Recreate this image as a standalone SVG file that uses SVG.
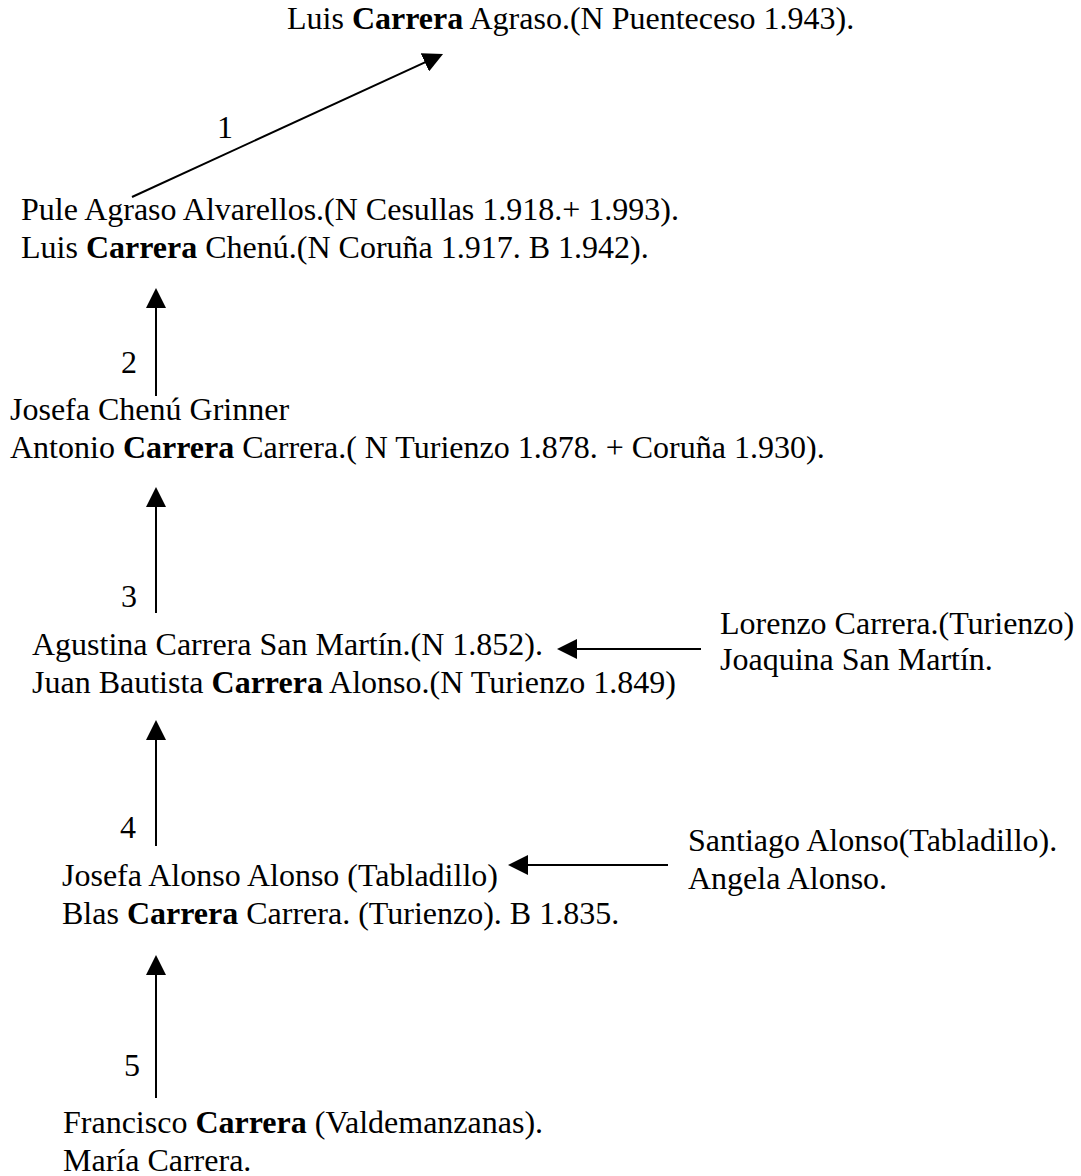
<svg xmlns="http://www.w3.org/2000/svg" width="1081" height="1176" viewBox="0 0 1081 1176">
  <style>
    text { font-family: "Liberation Serif", "Times New Roman", serif; font-size: 32px; fill: #000; }
    .b { font-weight: bold; }
    .link { stroke: #000; stroke-width: 2; fill: none; marker-end: url(#head); }
  </style>
  <defs>
    <marker id="head" markerUnits="userSpaceOnUse" markerWidth="20" markerHeight="20" viewBox="0 0 20 20" refX="15" refY="10" orient="auto">
      <path d="M0,0 L20,10 L0,20 Z" fill="#000"/>
    </marker>
  </defs>

  <rect width="1081" height="1176" fill="#fff"/>

  <!-- connectors: each arrow points from a couple to the child's couple -->
  <g id="connectors">
    <path class="link" d="M132,197 L438.5,56.1"/>
    <path class="link" d="M156,396 L156,293"/>
    <path class="link" d="M156,613 L156,492"/>
    <path class="link" d="M156,846 L156,725"/>
    <path class="link" d="M156,1098 L156,960"/>
    <path class="link" d="M701,649 L562,649"/>
    <path class="link" d="M668,865 L513,865"/>
  </g>

  <!-- generation numbers -->
  <g id="labels">
    <text x="217" y="138">1</text>
    <text x="121" y="373">2</text>
    <text x="121" y="607">3</text>
    <text x="120" y="838">4</text>
    <text x="124" y="1076">5</text>
  </g>

  <g id="gen0">
    <text x="287" y="29">Luis <tspan class="b">Carrera</tspan> Agraso.(N Puenteceso 1.943).</text>
  </g>

  <g id="gen1">
    <text x="21" y="220">Pule Agraso Alvarellos.(N Cesullas 1.918.+ 1.993).</text>
    <text x="21" y="258">Luis <tspan class="b">Carrera</tspan> Chenú.(N Coruña 1.917. B 1.942).</text>
  </g>

  <g id="gen2">
    <text x="10" y="420">Josefa Chenú Grinner</text>
    <text x="10" y="458">Antonio <tspan class="b">Carrera</tspan> Carrera.( N Turienzo 1.878. + Coruña 1.930).</text>
  </g>

  <g id="gen3">
    <text x="32" y="655">Agustina Carrera San Martín.(N 1.852).</text>
    <text x="32" y="693">Juan Bautista <tspan class="b">Carrera</tspan> Alonso.(N Turienzo 1.849)</text>
  </g>

  <g id="gen3-wife-parents">
    <text x="720" y="634">Lorenzo Carrera.(Turienzo)</text>
    <text x="720" y="670">Joaquina San Martín.</text>
  </g>

  <g id="gen4">
    <text x="62" y="886">Josefa Alonso Alonso (Tabladillo)</text>
    <text x="62" y="924">Blas <tspan class="b">Carrera</tspan> Carrera. (Turienzo). B 1.835.</text>
  </g>

  <g id="gen4-wife-parents">
    <text x="688" y="851">Santiago Alonso(Tabladillo).</text>
    <text x="688" y="889">Angela Alonso.</text>
  </g>

  <g id="gen5">
    <text x="63" y="1133">Francisco <tspan class="b">Carrera</tspan> (Valdemanzanas).</text>
    <text x="63" y="1171">María Carrera.</text>
  </g>
</svg>
